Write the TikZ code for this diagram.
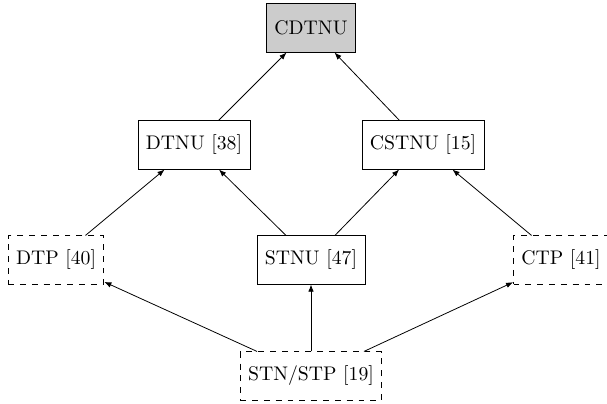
\documentclass[tikz,border=0pt]{standalone}
\usepackage{amsmath}
\usepackage{tikz}
\usetikzlibrary{arrows.meta, positioning}
\usepackage{xcolor}

\begin{document}
\begin{tikzpicture}[x=0.507pt, y=-0.507pt,
    box/.style={rectangle, draw=black, text=black, inner xsep=4pt, minimum height=24.5pt},
    optbox/.style={box, dashed},
    topbox/.style={box, fill=black!20},
    edge/.style={-{Latex[length=3.6pt, width=2.8pt]}, thin}]
  \useasboundingbox (0, 0) rectangle (607, 403);

  \node[topbox] (cdtnu) at (311, 28) {CDTNU};

  \node[box] (dtnu) at (194, 145) {DTNU [38]};
  \node[box] (cstnu) at (423, 145) {CSTNU [15]};

  \node[optbox] (dtp) at (56, 260) {DTP [40]};
  \node[box] (stnu) at (311, 260) {STNU [47]};
  \node[optbox] (ctp) at (561, 260) {CTP [41]};

  \node[optbox] (stn) at (311, 376) {STN/STP [19]};

  \draw[edge] (dtnu) -- (cdtnu);
  \draw[edge] (cstnu) -- (cdtnu);
  \draw[edge] (dtp) -- (dtnu);
  \draw[edge] (stnu) -- (dtnu);
  \draw[edge] (stnu) -- (cstnu);
  \draw[edge] (ctp) -- (cstnu);
  \draw[edge] (stn) -- (dtp);
  \draw[edge] (stn) -- (stnu);
  \draw[edge] (stn) -- (ctp);
\end{tikzpicture}
\end{document}
